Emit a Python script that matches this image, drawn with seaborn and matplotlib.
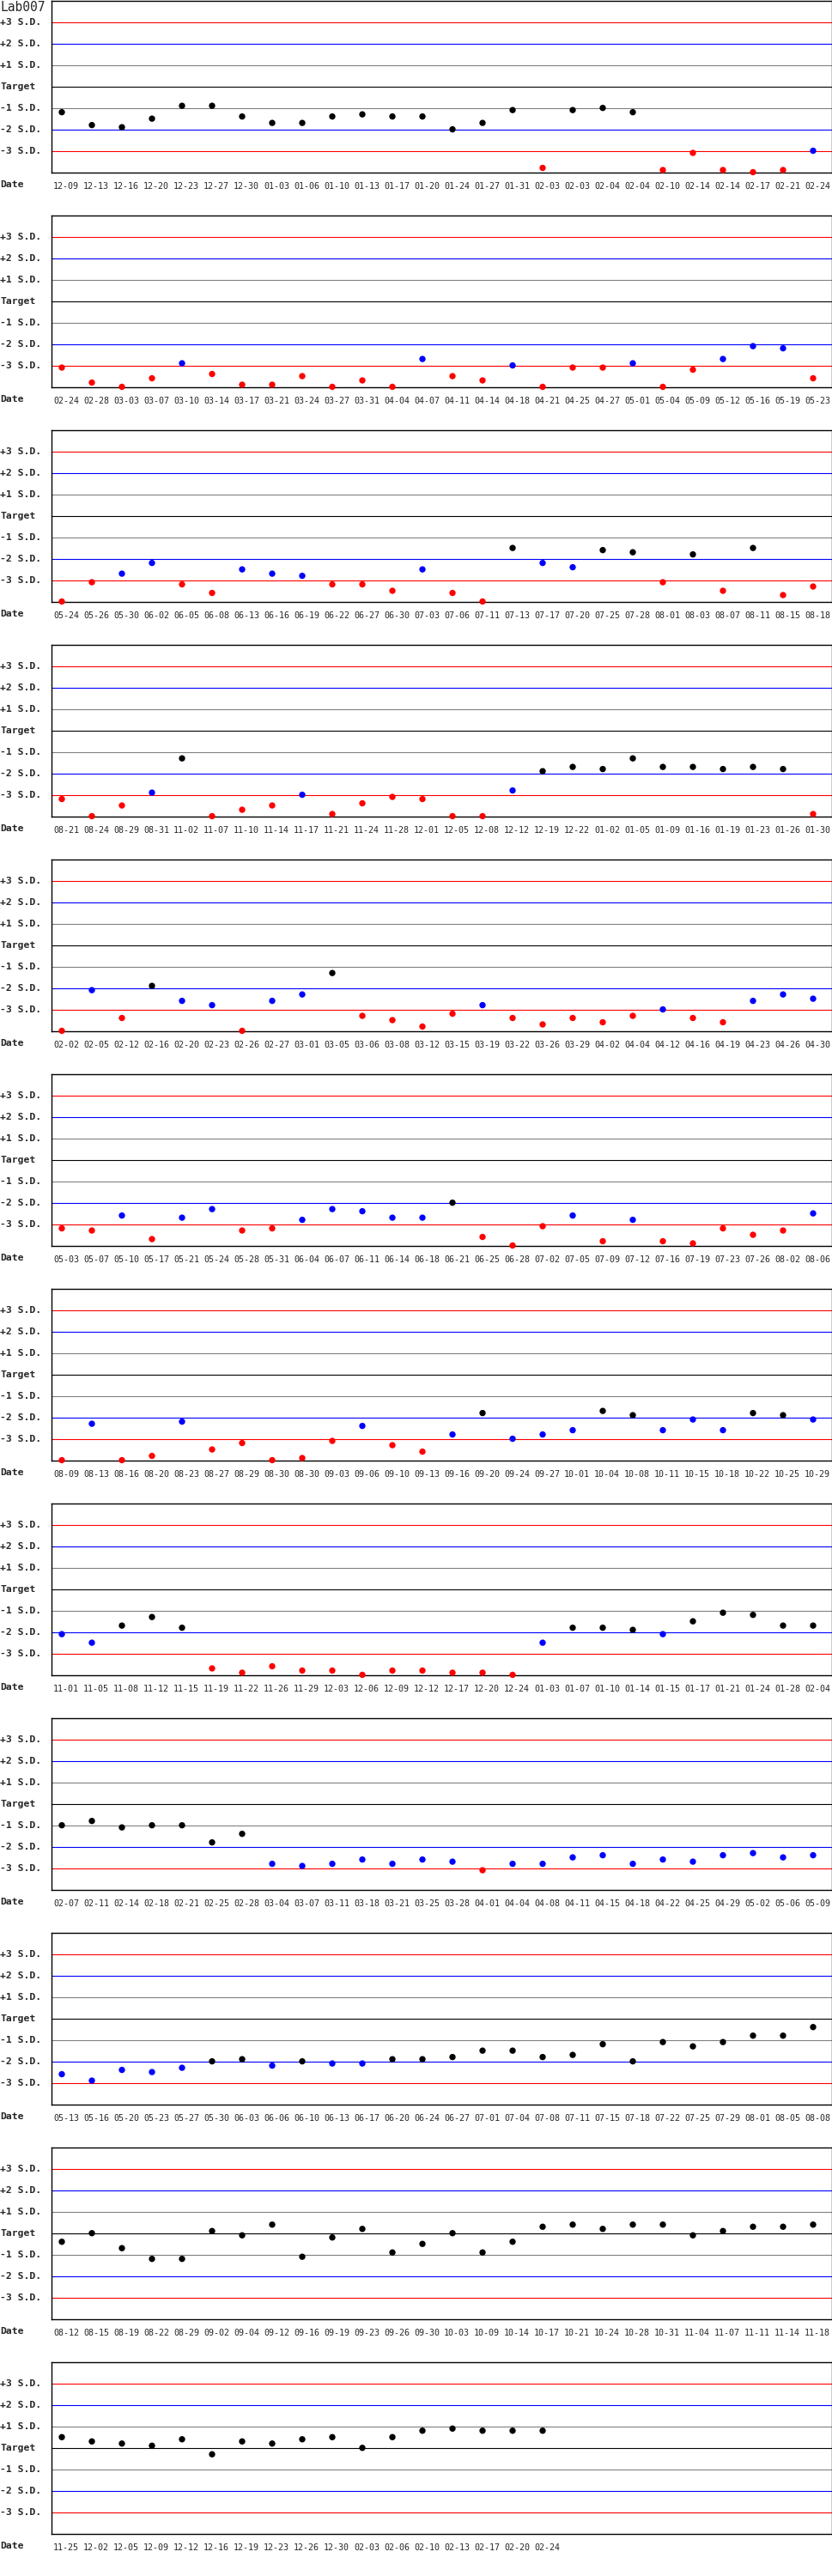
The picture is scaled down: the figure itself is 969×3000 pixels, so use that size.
import numpy as np
import pandas as pd
import seaborn as sns
import matplotlib.pyplot as plt
from matplotlib.transforms import blended_transform_factory

lab_name = "Lab007"

# one list of dates and one of S.D. values per chart row
dates_01 = ["12-09", "12-13", "12-16", "12-20", "12-23", "12-27", "12-30", "01-03", "01-06", "01-10", "01-13", "01-17", "01-20",
            "01-24", "01-27", "01-31", "02-03", "02-03", "02-04", "02-04", "02-10", "02-14", "02-14", "02-17", "02-21", "02-24"]
values_01 = [-1.2, -1.8, -1.9, -1.5, -0.9, -0.9, -1.4, -1.7, -1.7, -1.4, -1.3, -1.4, -1.4,
             -2.0, -1.7, -1.1, -3.8, -1.1, -1.0, -1.2, -3.9, -3.1, -3.9, -4.0, -3.9, -3.0]

dates_02 = ["02-24", "02-28", "03-03", "03-07", "03-10", "03-14", "03-17", "03-21", "03-24", "03-27", "03-31", "04-04", "04-07",
            "04-11", "04-14", "04-18", "04-21", "04-25", "04-27", "05-01", "05-04", "05-09", "05-12", "05-16", "05-19", "05-23"]
values_02 = [-3.1, -3.8, -4.0, -3.6, -2.9, -3.4, -3.9, -3.9, -3.5, -4.0, -3.7, -4.0, -2.7,
             -3.5, -3.7, -3.0, -4.0, -3.1, -3.1, -2.9, -4.0, -3.2, -2.7, -2.1, -2.2, -3.6]

dates_03 = ["05-24", "05-26", "05-30", "06-02", "06-05", "06-08", "06-13", "06-16", "06-19", "06-22", "06-27", "06-30", "07-03",
            "07-06", "07-11", "07-13", "07-17", "07-20", "07-25", "07-28", "08-01", "08-03", "08-07", "08-11", "08-15", "08-18"]
values_03 = [-4.0, -3.1, -2.7, -2.2, -3.2, -3.6, -2.5, -2.7, -2.8, -3.2, -3.2, -3.5, -2.5,
             -3.6, -4.0, -1.5, -2.2, -2.4, -1.6, -1.7, -3.1, -1.8, -3.5, -1.5, -3.7, -3.3]

dates_04 = ["08-21", "08-24", "08-29", "08-31", "11-02", "11-07", "11-10", "11-14", "11-17", "11-21", "11-24", "11-28", "12-01",
            "12-05", "12-08", "12-12", "12-19", "12-22", "01-02", "01-05", "01-09", "01-16", "01-19", "01-23", "01-26", "01-30"]
values_04 = [-3.2, -4.0, -3.5, -2.9, -1.3, -4.0, -3.7, -3.5, -3.0, -3.9, -3.4, -3.1, -3.2,
             -4.0, -4.0, -2.8, -1.9, -1.7, -1.8, -1.3, -1.7, -1.7, -1.8, -1.7, -1.8, -3.9]

dates_05 = ["02-02", "02-05", "02-12", "02-16", "02-20", "02-23", "02-26", "02-27", "03-01", "03-05", "03-06", "03-08", "03-12",
            "03-15", "03-19", "03-22", "03-26", "03-29", "04-02", "04-04", "04-12", "04-16", "04-19", "04-23", "04-26", "04-30"]
values_05 = [-4.0, -2.1, -3.4, -1.9, -2.6, -2.8, -4.0, -2.6, -2.3, -1.3, -3.3, -3.5, -3.8,
             -3.2, -2.8, -3.4, -3.7, -3.4, -3.6, -3.3, -3.0, -3.4, -3.6, -2.6, -2.3, -2.5]

dates_06 = ["05-03", "05-07", "05-10", "05-17", "05-21", "05-24", "05-28", "05-31", "06-04", "06-07", "06-11", "06-14", "06-18",
            "06-21", "06-25", "06-28", "07-02", "07-05", "07-09", "07-12", "07-16", "07-19", "07-23", "07-26", "08-02", "08-06"]
values_06 = [-3.2, -3.3, -2.6, -3.7, -2.7, -2.3, -3.3, -3.2, -2.8, -2.3, -2.4, -2.7, -2.7,
             -2.0, -3.6, -4.0, -3.1, -2.6, -3.8, -2.8, -3.8, -3.9, -3.2, -3.5, -3.3, -2.5]

dates_07 = ["08-09", "08-13", "08-16", "08-20", "08-23", "08-27", "08-29", "08-30", "08-30", "09-03", "09-06", "09-10", "09-13",
            "09-16", "09-20", "09-24", "09-27", "10-01", "10-04", "10-08", "10-11", "10-15", "10-18", "10-22", "10-25", "10-29"]
values_07 = [-4.0, -2.3, -4.0, -3.8, -2.2, -3.5, -3.2, -4.0, -3.9, -3.1, -2.4, -3.3, -3.6,
             -2.8, -1.8, -3.0, -2.8, -2.6, -1.7, -1.9, -2.6, -2.1, -2.6, -1.8, -1.9, -2.1]

dates_08 = ["11-01", "11-05", "11-08", "11-12", "11-15", "11-19", "11-22", "11-26", "11-29", "12-03", "12-06", "12-09", "12-12",
            "12-17", "12-20", "12-24", "01-03", "01-07", "01-10", "01-14", "01-15", "01-17", "01-21", "01-24", "01-28", "02-04"]
values_08 = [-2.1, -2.5, -1.7, -1.3, -1.8, -3.7, -3.9, -3.6, -3.8, -3.8, -4.0, -3.8, -3.8,
             -3.9, -3.9, -4.0, -2.5, -1.8, -1.8, -1.9, -2.1, -1.5, -1.1, -1.2, -1.7, -1.7]

dates_09 = ["02-07", "02-11", "02-14", "02-18", "02-21", "02-25", "02-28", "03-04", "03-07", "03-11", "03-18", "03-21", "03-25",
            "03-28", "04-01", "04-04", "04-08", "04-11", "04-15", "04-18", "04-22", "04-25", "04-29", "05-02", "05-06", "05-09"]
values_09 = [-1.0, -0.8, -1.1, -1.0, -1.0, -1.8, -1.4, -2.8, -2.9, -2.8, -2.6, -2.8, -2.6,
             -2.7, -3.1, -2.8, -2.8, -2.5, -2.4, -2.8, -2.6, -2.7, -2.4, -2.3, -2.5, -2.4]

dates_10 = ["05-13", "05-16", "05-20", "05-23", "05-27", "05-30", "06-03", "06-06", "06-10", "06-13", "06-17", "06-20", "06-24",
            "06-27", "07-01", "07-04", "07-08", "07-11", "07-15", "07-18", "07-22", "07-25", "07-29", "08-01", "08-05", "08-08"]
values_10 = [-2.6, -2.9, -2.4, -2.5, -2.3, -2.0, -1.9, -2.2, -2.0, -2.1, -2.1, -1.9, -1.9,
             -1.8, -1.5, -1.5, -1.8, -1.7, -1.2, -2.0, -1.1, -1.3, -1.1, -0.8, -0.8, -0.4]

dates_11 = ["08-12", "08-15", "08-19", "08-22", "08-29", "09-02", "09-04", "09-12", "09-16", "09-19", "09-23", "09-26", "09-30",
            "10-03", "10-09", "10-14", "10-17", "10-21", "10-24", "10-28", "10-31", "11-04", "11-07", "11-11", "11-14", "11-18"]
values_11 = [-0.4, 0.0, -0.7, -1.2, -1.2, 0.1, -0.1, 0.4, -1.1, -0.2, 0.2, -0.9, -0.5,
             0.0, -0.9, -0.4, 0.3, 0.4, 0.2, 0.4, 0.4, -0.1, 0.1, 0.3, 0.3, 0.4]

dates_12 = ["11-25", "12-02", "12-05", "12-09", "12-12", "12-16", "12-19", "12-23", "12-26", "12-30", "02-03", "02-06", "02-10",
            "02-13", "02-17", "02-20", "02-24"]
values_12 = [0.5, 0.3, 0.2, 0.1, 0.4, -0.3, 0.3, 0.2, 0.4, 0.5, 0.0, 0.5, 0.8,
             0.9, 0.8, 0.8, 0.8]

level_labels = ["+3 S.D.", "+2 S.D.", "+1 S.D.", "Target", "-1 S.D.", "-2 S.D.", "-3 S.D."]
level_values = [3, 2, 1, 0, -1, -2, -3]

all_dates = [dates_01, dates_02, dates_03, dates_04, dates_05, dates_06,
             dates_07, dates_08, dates_09, dates_10, dates_11, dates_12]
all_values = [values_01, values_02, values_03, values_04, values_05, values_06,
              values_07, values_08, values_09, values_10, values_11, values_12]

rows = []
for p, (ds, vs) in enumerate(zip(all_dates, all_values)):
    for i, (d, v) in enumerate(zip(ds, vs)):
        rows.append({"panel": p, "slot": i, "date": d, "sd": v})
df = pd.DataFrame(rows)
df["status"] = np.where(df["sd"].abs() <= 2, "ok",
                        np.where(df["sd"].abs() <= 3, "warn", "fail"))

sns.set_style("white")
plt.rcParams["font.family"] = ["DejaVu Sans Mono"]

W, H = 970, 3000
fig = plt.figure(figsize=(W / 100, H / 100), dpi=100)

line_colors = {3: "#ff0000", 2: "#0000ff", 1: "#808080", 0: "#000000",
               -1: "#808080", -2: "#0000ff", -3: "#ff0000"}
palette = {"ok": "#000000", "warn": "#0000ff", "fail": "#ff0000"}

left, right = 60, 969
for p in range(12):
    top = 250 * p + 1
    ax = fig.add_axes([left / W, 1 - (top + 199.5) / H, (right - left) / W, 199.5 / H])
    sub = df[df["panel"] == p]

    for lv in level_values:
        ax.axhline(lv, color=line_colors[lv], lw=0.8, zorder=1)

    sns.scatterplot(data=sub, x="slot", y="sd", hue="status", palette=palette,
                    legend=False, s=28, linewidth=0, clip_on=False, zorder=3, ax=ax)

    ax.set_xlim(-12 / 35, 25 + 22 / 35)
    ax.set_ylim(-4, 4)
    ax.set_xticks([])
    ax.set_yticks([])
    ax.set_xlabel("")
    ax.set_ylabel("")
    for sp in ax.spines.values():
        sp.set_color("black")
        sp.set_linewidth(1.0)

    tr = blended_transform_factory(fig.transFigure, ax.transData)
    for lab, lv in zip(level_labels, level_values):
        ax.text(0.5 / W, lv, lab, transform=tr, ha="left", va="center",
                fontsize=8.2, fontweight="bold", clip_on=False)
    ax.text(0.5 / W, -4.58, "Date", transform=tr, ha="left", va="center",
            fontsize=8.2, fontweight="bold", clip_on=False)
    if p == 0:
        ax.text(0.5 / W, 3.68, lab_name, transform=tr, ha="left", va="center",
                fontsize=10.5, clip_on=False)

    for i, d in zip(sub["slot"], sub["date"]):
        ax.text(i + 5 / 35, -4.68, d, ha="center", va="center", fontsize=7.2, clip_on=False)

fig.savefig("out.png", dpi=100, facecolor="white")
